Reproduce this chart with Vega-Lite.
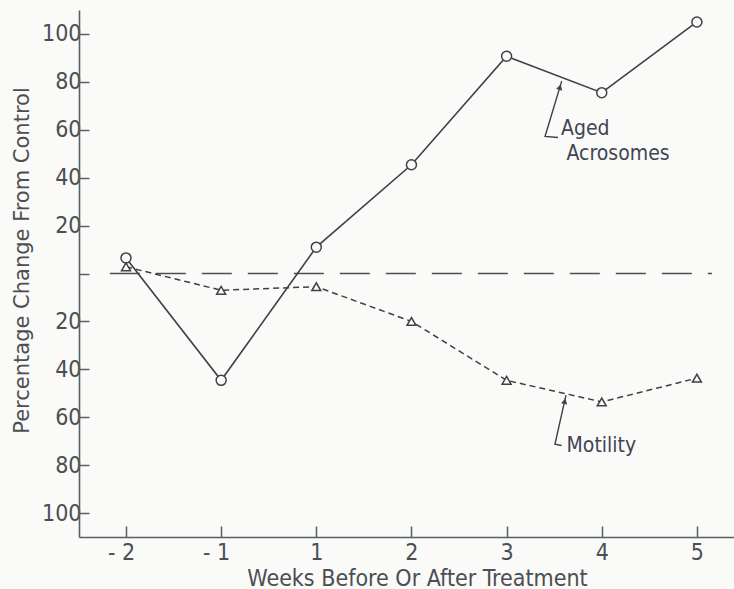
{
  "$schema": "https://vega.github.io/schema/vega-lite/v6.json",
  "width": 655,
  "height": 527,
  "autosize": {"type": "none"},
  "padding": {"left": 79, "top": 10, "right": 0, "bottom": 52},
  "background": "#fafaf8",
  "config": {
    "view": {"stroke": null},
    "font": "Liberation Sans Narrow, DejaVu Sans Condensed, sans-serif",
    "axis": {
      "grid": false,
      "domainColor": "#556262",
      "domainWidth": 1.6,
      "tickColor": "#556262",
      "tickWidth": 1.5,
      "labelColor": "#4a4f52",
      "titleColor": "#4a4f52",
      "labelFont": "Liberation Sans Narrow, DejaVu Sans Condensed, sans-serif",
      "titleFont": "Liberation Sans Narrow, DejaVu Sans Condensed, sans-serif",
      "titleFontWeight": "normal"
    }
  },
  "datasets": {
    "series": [
      {"week": -2, "value": 6.5, "series": "Aged Acrosomes"},
      {"week": -1, "value": -44.6, "series": "Aged Acrosomes"},
      {"week": 1, "value": 11, "series": "Aged Acrosomes"},
      {"week": 2, "value": 45.4, "series": "Aged Acrosomes"},
      {"week": 3, "value": 90.7, "series": "Aged Acrosomes"},
      {"week": 4, "value": 75.5, "series": "Aged Acrosomes"},
      {"week": 5, "value": 105, "series": "Aged Acrosomes"},
      {"week": -2, "value": 2.8, "series": "Motility"},
      {"week": -1, "value": -7, "series": "Motility"},
      {"week": 1, "value": -5.5, "series": "Motility"},
      {"week": 2, "value": -20, "series": "Motility"},
      {"week": 3, "value": -44.6, "series": "Motility"},
      {"week": 4, "value": -53.6, "series": "Motility"},
      {"week": 5, "value": -43.7, "series": "Motility"}
    ],
    "leaders": [
      {"leader": "Aged Acrosomes", "step": 1, "week": 3.579, "value": 80.3},
      {"leader": "Aged Acrosomes", "step": 2, "week": 3.404, "value": 57.2},
      {"leader": "Aged Acrosomes", "step": 3, "week": 3.54, "value": 56.8},
      {"leader": "Motility", "step": 1, "week": 3.624, "value": -50.8},
      {"leader": "Motility", "step": 2, "week": 3.508, "value": -71.3},
      {"leader": "Motility", "step": 3, "week": 3.578, "value": -71.8}
    ],
    "arrows": [
      {"leader": "Aged Acrosomes", "week": 3.561, "value": 77.8, "angle": 17},
      {"leader": "Motility", "week": 3.611, "value": -53.3, "angle": 13}
    ],
    "labels": [
      {"text": "Aged", "week": 3.572, "value": 57.9},
      {"text": "Acrosomes", "week": 3.63, "value": 47.5},
      {"text": "Motility", "week": 3.63, "value": -74.7}
    ],
    "zero": [
      {"week": -2.17, "week2": 5.16, "value": 0}
    ]
  },
  "layer": [
    {
      "data": {"name": "zero"},
      "mark": {"type": "rule", "color": "#4a4f52", "strokeWidth": 1.6, "strokeDash": [30, 16]},
      "encoding": {
        "x": {"field": "week", "type": "quantitative"},
        "x2": {"field": "week2"},
        "y": {"field": "value", "type": "quantitative"}
      }
    },
    {
      "data": {"name": "series"},
      "transform": [{"filter": "datum.series == 'Aged Acrosomes'"}],
      "mark": {"type": "line", "color": "#3d4244", "strokeWidth": 1.6},
      "encoding": {
        "x": {
          "field": "week",
          "type": "quantitative",
          "scale": {"domain": [-2.494, -1, 1, 5.39], "range": [0, 142.15, 237.3, 655], "nice": false, "zero": false},
          "axis": {
            "values": [-2, -1, 1, 2, 3, 4, 5],
            "title": "Weeks Before Or After Treatment",
            "tickSize": -11,
            "labelPadding": 15,
            "labelFontSize": 23,
            "labelOffset": {"condition": {"test": "datum.value < 0", "value": -5}, "value": 0},
            "titleFontSize": 23,
            "titleX": 338,
            "titleY": 48,
            "titleBaseline": "alphabetic",
            "labelExpr": "datum.value < 0 ? '- ' + abs(datum.value) : datum.value"
          }
        },
        "y": {
          "field": "value",
          "type": "quantitative",
          "scale": {"domain": [-110, 110], "nice": false, "zero": false},
          "axis": {
            "values": [-100, -80, -60, -40, -20, 0, 20, 40, 60, 80, 100],
            "title": "Percentage Change From Control",
            "tickSize": -10,
            "labelPadding": 8,
            "labelFontSize": 23,
            "titleFont": "DejaVu Sans",
            "titleFontSize": 21,
            "titleX": -57,
            "titleY": 250,
            "titleAngle": -90,
            "titleBaseline": "middle",
            "labelExpr": "datum.value == 0 ? '' : '' + abs(datum.value)"
          }
        }
      }
    },
    {
      "data": {"name": "series"},
      "transform": [{"filter": "datum.series == 'Motility'"}],
      "mark": {"type": "line", "color": "#3d4244", "strokeWidth": 1.5, "strokeDash": [6, 4]},
      "encoding": {
        "x": {"field": "week", "type": "quantitative"},
        "y": {"field": "value", "type": "quantitative"}
      }
    },
    {
      "data": {"name": "series"},
      "mark": {"type": "point", "filled": true, "fill": "#fafaf8", "stroke": "#3d4244", "strokeWidth": 1.5, "opacity": 1},
      "encoding": {
        "x": {"field": "week", "type": "quantitative"},
        "y": {"field": "value", "type": "quantitative"},
        "shape": {
          "field": "series",
          "type": "nominal",
          "scale": {"domain": ["Aged Acrosomes", "Motility"], "range": ["circle", "triangle-up"]},
          "legend": null
        },
        "size": {
          "field": "series",
          "type": "nominal",
          "scale": {"domain": ["Aged Acrosomes", "Motility"], "range": [100, 80]},
          "legend": null
        }
      }
    },
    {
      "data": {"name": "leaders"},
      "mark": {"type": "line", "color": "#3d4244", "strokeWidth": 1.4},
      "encoding": {
        "x": {"field": "week", "type": "quantitative"},
        "y": {"field": "value", "type": "quantitative"},
        "detail": {"field": "leader"},
        "order": {"field": "step"}
      }
    },
    {
      "data": {"name": "arrows"},
      "mark": {"type": "point", "shape": "triangle-up", "filled": true, "color": "#3d4244", "size": 40, "opacity": 1},
      "encoding": {
        "x": {"field": "week", "type": "quantitative"},
        "y": {"field": "value", "type": "quantitative"},
        "angle": {"field": "angle", "type": "quantitative", "scale": null}
      }
    },
    {
      "data": {"name": "labels"},
      "mark": {"type": "text", "align": "left", "baseline": "alphabetic", "fontSize": 21, "color": "#3f4652"},
      "encoding": {
        "x": {"field": "week", "type": "quantitative"},
        "y": {"field": "value", "type": "quantitative"},
        "text": {"field": "text"}
      }
    }
  ]
}
